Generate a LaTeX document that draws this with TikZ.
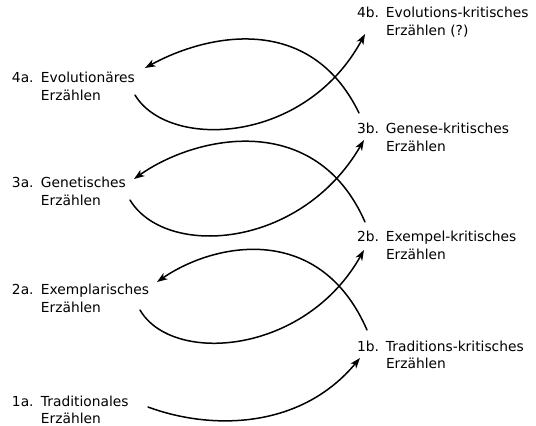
\documentclass[tikz,border=0pt]{standalone}
\usepackage{fontspec}
\setmainfont{DejaVu Sans}
\usetikzlibrary{arrows.meta}
\newcommand\mylab[3]{\begin{tabular}[t]{@{}p{29pt}@{}l@{}}#1&#2\\&#3\end{tabular}}
\begin{document}
\begin{tikzpicture}[x=1pt,y=-1pt,
  lbl/.style={anchor=base west, inner sep=0pt, outer sep=0pt,
    font=\fontsize{13.8}{17.5}\selectfont},
  conn/.style={line width=1.5pt, line cap=round,
    -{Stealth[length=10.5pt,width=7.5pt,inset=3pt]}}]
\useasboundingbox (0,0) rectangle (536,426);
\fill[white] (0,0) rectangle (536,426);

% left labels
\node[lbl] (a4) at (12,82.5)  {\mylab{4a.}{Evolutionäres}{Erzählen}};
\node[lbl] (a3) at (12,187.5) {\mylab{3a.}{Genetisches}{Erzählen}};
\node[lbl] (a2) at (12,294.5) {\mylab{2a.}{Exemplarisches}{Erzählen}};
\node[lbl] (a1) at (12,406)   {\mylab{1a.}{Traditionales}{Erzählen}};
% right labels
\node[lbl] (b4) at (357,17.5)  {\mylab{4b.}{Evolutions-kritisches}{Erzählen (?)}};
\node[lbl] (b3) at (357,133.5) {\mylab{3b.}{Genese-kritisches}{Erzählen}};
\node[lbl] (b2) at (357,241.5) {\mylab{2b.}{Exempel-kritisches}{Erzählen}};
\node[lbl] (b1) at (357,351)   {\mylab{1b.}{Traditions-kritisches}{Erzählen}};

% connector ends
\coordinate (a4out) at (135,95);  \coordinate (b4in) at (365,34);
\coordinate (b3out) at (359,113); \coordinate (a4in) at (145,68);
\coordinate (a3out) at (130,200); \coordinate (b3in) at (364,140);
\coordinate (b2out) at (365,222); \coordinate (a3in) at (134,179);
\coordinate (a2out) at (140,310); \coordinate (b2in) at (364,250);
\coordinate (b1out) at (367,330); \coordinate (a2in) at (157,282);
\coordinate (a1out) at (148,407); \coordinate (b1in) at (360,358);

% level 4
\draw[conn] (b3out) .. controls (310,12) and (207,34) .. (a4in);
\draw[conn] (a4out) .. controls (168,150) and (305,145) .. (b4in);
% level 3
\draw[conn] (b2out) .. controls (316,110) and (196,135) .. (a3in);
\draw[conn] (a3out) .. controls (165,258) and (300,250) .. (b3in);
% level 2
\draw[conn] (b1out) .. controls (320,222) and (215,242) .. (a2in);
\draw[conn] (a2out) .. controls (172,365) and (305,355) .. (b2in);
% level 1
\draw[conn] (a1out) .. controls (210,430) and (300,430) .. (b1in);
\end{tikzpicture}
\end{document}
